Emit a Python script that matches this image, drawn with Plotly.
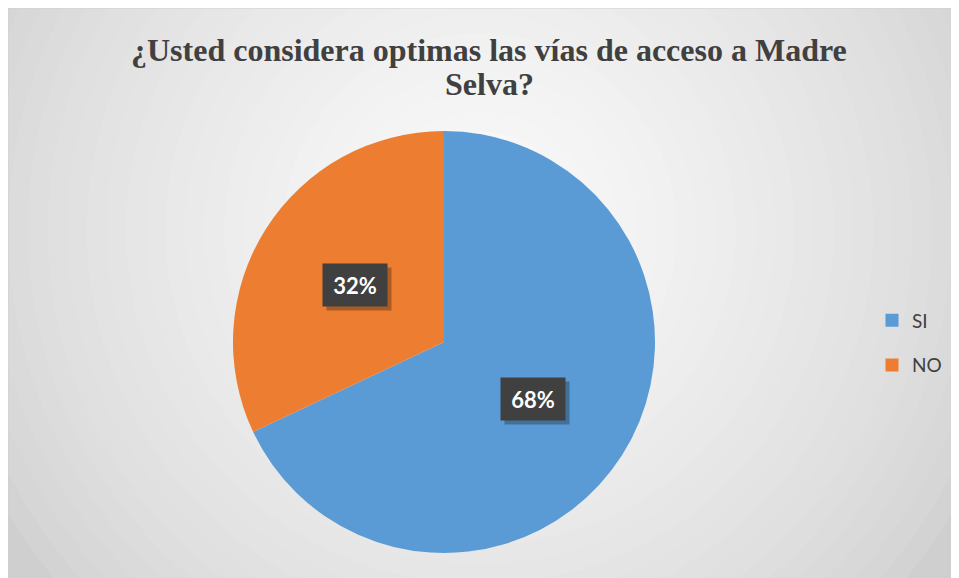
import math
import plotly.graph_objects as go

# ---- data ----
categories = ["SI", "NO"]
values = [68, 32]
colors = ["#5B9BD5", "#ED7D31"]
title_lines = ["¿Usted considera optimas las vías de acceso a Madre", "Selva?"]

W, H = 959, 578
# pie geometry (figure pixels)
PCX, PCY, PR = 436, 334, 211

fig = go.Figure()

fig.add_trace(go.Pie(
    labels=categories,
    values=values,
    marker=dict(colors=colors, line=dict(width=0)),
    sort=False,
    direction="clockwise",
    rotation=0,
    textinfo="none",
    hoverinfo="label+percent",
    showlegend=False,
    domain=dict(x=[(PCX - PR) / W, (PCX + PR) / W],
                y=[1 - (PCY + PR) / H, 1 - (PCY - PR) / H]),
))

# legend via dummy traces
for cat, col in zip(categories, colors):
    fig.add_trace(go.Scatter(
        x=[None], y=[None], mode="markers", name=cat,
        marker=dict(symbol="square", size=13, color=col),
        legendgroup=cat, showlegend=True,
    ))

# background radial gradient (styling)
shapes = []
shapes.append(dict(type="rect", xref="paper", yref="paper", x0=0, x1=1, y0=0, y1=1,
                   fillcolor="#cfcfcf", line=dict(width=0), layer="below"))
gcx, gcy = 472, 222
levels = 28
for k in range(levels):
    R = 570 - k * (550 / levels)
    t = k / (levels - 1)
    g = int(round(0xcf + (0xfa - 0xcf) * (t ** 0.7)))
    c = f"rgb({g},{g},{g})"
    shapes.append(dict(type="circle", xref="paper", yref="paper",
                       x0=(gcx - R) / W, x1=(gcx + R) / W,
                       y0=1 - (gcy + R) / H, y1=1 - (gcy - R) / H,
                       fillcolor=c, line=dict(width=0), layer="below"))
# thin frame
shapes.append(dict(type="rect", xref="paper", yref="paper", x0=0, x1=1, y0=0, y1=1,
                   fillcolor="rgba(0,0,0,0)", line=dict(width=1, color="#d0d0d0"), layer="below"))

# data labels positioned from values
annotations = []
total = sum(values)
cum = 0
for v in values:
    mid = (cum + v / 2) / total * 2 * math.pi
    cum += v
    px = PCX + 0.5 * PR * math.sin(mid)
    py = PCY - 0.5 * PR * math.cos(mid)
    txt = f"{round(100 * v / total)}%"
    common = dict(xref="paper", yref="paper", x=px / W, y=1 - py / H,
                  xanchor="center", yanchor="middle", showarrow=False,
                  borderpad=8, width=48, height=26)
    annotations.append(dict(text=" ", bgcolor="rgba(0,0,0,0.28)",
                            font=dict(family="Lato", size=22, color="rgba(0,0,0,0)"),
                            xshift=4, yshift=-4, **common))
    annotations.append(dict(text=f"<b>{txt}</b>", bgcolor="#404040",
                            font=dict(family="Lato", size=22, color="white"),
                            **common))

# title lines
title_y = [42, 76]
for line, ty in zip(title_lines, title_y):
    annotations.append(dict(text=f"<b>{line}</b>", xref="paper", yref="paper",
                            x=481 / W, y=1 - ty / H, xanchor="center", yanchor="middle",
                            showarrow=False,
                            font=dict(family="Liberation Serif", size=32, color="#404040")))

fig.update_layout(
    width=W, height=H,
    margin=dict(l=0, r=0, t=0, b=0),
    paper_bgcolor="white",
    plot_bgcolor="rgba(0,0,0,0)",
    xaxis=dict(visible=False),
    yaxis=dict(visible=False),
    shapes=shapes,
    annotations=annotations,
    showlegend=True,
    legend=dict(x=864 / W, y=1 - 335 / H, xanchor="left", yanchor="middle",
                bgcolor="rgba(0,0,0,0)", tracegroupgap=17,
                font=dict(family="Lato", size=19, color="#404040"),
                itemwidth=30),
)

fig.write_html("out.html")
